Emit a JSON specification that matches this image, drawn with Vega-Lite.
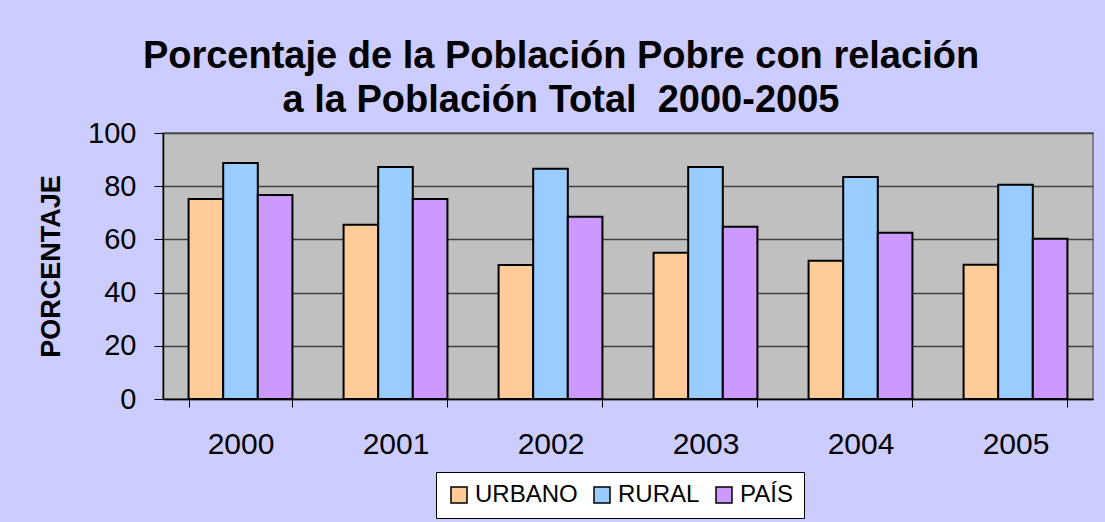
{
  "$schema": "https://vega.github.io/schema/vega-lite/v6.json",
  "width": 930,
  "height": 266,
  "autosize": {"type": "none"},
  "padding": {"left": 163, "top": 133, "right": 12, "bottom": 123},
  "background": "#CCCCFF",
  "title": {
    "text": ["Porcentaje de la Población Pobre con relación", "a la Población Total \u00a02000-2005"],
    "font": "Liberation Sans",
    "fontSize": 38,
    "fontWeight": "bold",
    "color": "black",
    "anchor": "middle",
    "dx": -67,
    "lineHeight": 44,
    "offset": -1
  },
  "data": {
    "values": [
      {"year": "2000", "serie": "URBANO", "valor": 75.2},
      {"year": "2000", "serie": "RURAL", "valor": 88.7},
      {"year": "2000", "serie": "PAÍS", "valor": 76.7},
      {"year": "2001", "serie": "URBANO", "valor": 65.5},
      {"year": "2001", "serie": "RURAL", "valor": 87.2},
      {"year": "2001", "serie": "PAÍS", "valor": 75.2},
      {"year": "2002", "serie": "URBANO", "valor": 50.4},
      {"year": "2002", "serie": "RURAL", "valor": 86.6},
      {"year": "2002", "serie": "PAÍS", "valor": 68.5},
      {"year": "2003", "serie": "URBANO", "valor": 55.0},
      {"year": "2003", "serie": "RURAL", "valor": 87.2},
      {"year": "2003", "serie": "PAÍS", "valor": 64.8},
      {"year": "2004", "serie": "URBANO", "valor": 52.0},
      {"year": "2004", "serie": "RURAL", "valor": 83.5},
      {"year": "2004", "serie": "PAÍS", "valor": 62.5},
      {"year": "2005", "serie": "URBANO", "valor": 50.5},
      {"year": "2005", "serie": "RURAL", "valor": 80.5},
      {"year": "2005", "serie": "PAÍS", "valor": 60.2}
    ]
  },
  "mark": {"type": "bar", "stroke": "black", "strokeWidth": 2},
  "encoding": {
    "x": {
      "field": "year",
      "type": "nominal",
      "scale": {"paddingInner": 0.33, "paddingOuter": 0.165},
      "axis": {
        "title": null,
        "labelAngle": 0,
        "labelFont": "Liberation Sans",
        "labelFontSize": 30,
        "labelColor": "black",
        "labelPadding": 22,
        "domainColor": "black",
        "domainWidth": 1.5,
        "tickColor": "black",
        "tickWidth": 1,
        "tickSize": 8,
        "tickBand": "extent",
        "grid": false
      }
    },
    "xOffset": {
      "field": "serie",
      "sort": ["URBANO", "RURAL", "PAÍS"],
      "scale": {"paddingInner": 0, "paddingOuter": 0}
    },
    "y": {
      "field": "valor",
      "type": "quantitative",
      "scale": {"domain": [0, 100], "nice": false},
      "axis": {
        "title": "PORCENTAJE",
        "titleFont": "Liberation Sans",
        "titleFontSize": 27,
        "titleFontWeight": "bold",
        "titleColor": "black",
        "titlePadding": 22,
        "values": [0, 20, 40, 60, 80, 100],
        "labelFont": "Liberation Sans",
        "labelFontSize": 29,
        "labelColor": "black",
        "labelPadding": 18,
        "domainColor": "black",
        "domainWidth": 1.5,
        "tickColor": "black",
        "tickWidth": 1,
        "tickSize": 9,
        "grid": true,
        "gridColor": "#404040",
        "gridWidth": 1.5
      }
    },
    "color": {
      "field": "serie",
      "type": "nominal",
      "sort": ["URBANO", "RURAL", "PAÍS"],
      "scale": {"domain": ["URBANO", "RURAL", "PAÍS"], "range": ["#FFCC99", "#99CCFF", "#CC99FF"]},
      "legend": {
        "orient": "none",
        "legendX": 273,
        "legendY": 339,
        "direction": "horizontal",
        "title": null,
        "fillColor": "white",
        "strokeColor": "black",
        "padding": 11,
        "symbolType": "square",
        "symbolSize": 256,
        "symbolStrokeColor": "black",
        "symbolStrokeWidth": 1.5,
        "symbolOpacity": 1,
        "labelFont": "Liberation Sans",
        "labelFontSize": 24,
        "labelColor": "black",
        "labelOffset": 4,
        "columnPadding": 12
      }
    }
  },
  "config": {
    "view": {"fill": "#C0C0C0", "stroke": "#808080", "strokeWidth": 2}
  }
}
